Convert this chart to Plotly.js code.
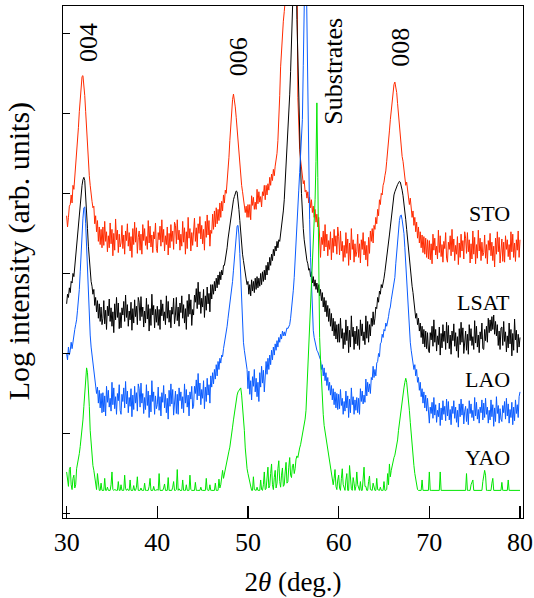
<!DOCTYPE html>
<html>
<head>
<meta charset="utf-8">
<script src="https://cdn.plot.ly/plotly-3.0.1.min.js"></script>
<style>html,body{margin:0;padding:0;background:#fff;}#chart{width:534px;height:598px;}</style>
</head>
<body>
<div id="chart"></div>
<script>
// 2theta grid: start and step (deg.)
const twoThetaStart = 30.0;
const twoThetaStep = 0.1;

// Log intensity (decades, arb. offset), one value per 0.1 deg from 30 to 80
const logSTO = [
3.72,3.58,3.70,3.84,3.86,3.98,3.88,4.10,4.05,4.20,4.30,4.44,4.62,4.82,5.02,5.20,5.36,5.46,5.47,5.38,
5.22,5.02,4.78,4.55,4.34,4.22,4.10,3.96,3.90,3.82,3.84,3.62,3.72,3.52,3.66,3.40,3.58,3.36,3.55,3.32,
3.58,3.35,3.65,3.40,3.52,3.27,3.47,3.32,3.63,3.37,3.55,3.22,3.50,3.29,3.68,3.42,3.54,3.26,3.49,3.33,
3.38,3.60,3.31,3.48,3.24,3.53,3.41,3.62,3.34,3.51,3.28,3.46,3.20,3.56,3.36,3.64,3.39,3.57,3.25,3.45,
3.53,3.29,3.49,3.24,3.61,3.41,3.56,3.35,3.46,3.30,3.66,3.38,3.59,3.33,3.48,3.26,3.52,3.43,3.63,3.31,
3.26,3.51,3.42,3.59,3.34,3.67,3.39,3.55,3.28,3.47,3.36,3.58,3.23,3.50,3.32,3.61,3.40,3.53,3.30,3.64,
3.60,3.37,3.67,3.42,3.54,3.29,3.49,3.34,3.65,3.39,3.57,3.24,3.52,3.31,3.70,3.44,3.56,3.28,3.51,3.35,
3.47,3.69,3.40,3.57,3.33,3.62,3.50,3.71,3.43,3.60,3.37,3.55,3.29,3.65,3.45,3.73,3.48,3.66,3.34,3.54,
3.50,3.74,3.55,3.78,3.58,3.82,3.62,3.80,3.66,3.88,3.70,3.90,3.78,3.98,3.88,4.04,4.00,4.14,4.25,4.45,
4.66,4.86,5.03,5.17,5.24,5.18,5.08,4.95,4.80,4.62,4.46,4.36,4.25,4.10,4.02,3.94,3.90,3.76,3.84,3.70,
3.86,3.70,3.86,3.67,3.97,3.85,3.95,3.80,3.89,3.80,4.05,3.87,4.02,3.89,3.96,3.83,4.02,3.97,4.10,3.92,
4.10,3.98,4.12,4.04,4.20,4.10,4.24,4.16,4.30,4.22,4.34,4.40,4.50,4.66,4.90,5.22,5.58,5.80,5.98,6.15,
6.27,6.40,7,7,7,7,7,7,7,7,7,7,7,7,7,5.20,4.70,4.55,4.42,4.30,
4.22,4.12,4.16,4.02,4.04,3.94,4.02,3.88,3.95,3.82,3.92,3.76,3.84,3.70,3.80,3.64,3.74,3.58,3.70,3.52,
3.20,3.45,3.36,3.53,3.28,3.61,3.33,3.49,3.22,3.41,3.30,3.52,3.17,3.44,3.26,3.55,3.34,3.47,3.24,3.58,
3.46,3.23,3.53,3.28,3.40,3.15,3.35,3.20,3.51,3.25,3.43,3.10,3.38,3.17,3.56,3.30,3.42,3.14,3.37,3.21,
3.27,3.49,3.20,3.37,3.13,3.42,3.30,3.51,3.23,3.40,3.17,3.35,3.09,3.45,3.25,3.53,3.40,3.56,3.38,3.60,
3.55,3.70,3.62,3.80,3.72,3.92,3.86,4.00,3.98,4.10,4.14,4.22,4.28,4.40,4.50,4.62,4.78,4.92,5.04,5.18,
5.28,5.36,5.39,5.34,5.26,5.12,4.98,4.86,4.74,4.58,4.46,4.40,4.30,4.20,4.10,4.14,4.02,3.96,3.86,3.94,
3.82,3.70,3.78,3.60,3.70,3.52,3.64,3.44,3.58,3.38,3.52,3.32,3.48,3.26,3.46,3.24,3.44,3.20,3.42,3.18,
3.41,3.17,3.37,3.12,3.49,3.29,3.44,3.23,3.34,3.18,3.54,3.26,3.47,3.21,3.36,3.14,3.40,3.31,3.51,3.19,
3.14,3.39,3.30,3.47,3.22,3.55,3.27,3.43,3.16,3.35,3.24,3.46,3.11,3.38,3.20,3.49,3.28,3.41,3.18,3.52,
3.44,3.25,3.51,3.27,3.42,3.13,3.37,3.18,3.53,3.24,3.45,3.12,3.36,3.19,3.54,3.28,3.44,3.16,3.39,3.22,
3.26,3.48,3.19,3.36,3.12,3.41,3.29,3.50,3.22,3.39,3.16,3.34,3.08,3.44,3.24,3.52,3.27,3.45,3.13,3.33,
3.43,3.15,3.39,3.14,3.47,3.30,3.42,3.21,3.36,3.17,3.52,3.27,3.49,3.20,3.38,3.15,3.42,3.29,3.53,3.20,
3.42];

const logLSAT = [
2.62,2.74,2.70,2.82,2.76,2.90,2.88,3.00,2.96,3.10,3.18,3.28,3.42,3.58,3.74,3.86,3.98,4.10,4.17,4.20,
4.16,4.00,3.80,3.56,3.34,3.18,3.05,2.90,2.84,2.74,2.80,2.60,2.70,2.52,2.66,2.44,2.62,2.40,2.58,2.36,
2.44,2.66,2.37,2.54,2.30,2.59,2.47,2.68,2.40,2.57,2.34,2.52,2.26,2.62,2.42,2.70,2.45,2.63,2.31,2.51,
2.32,2.57,2.48,2.65,2.40,2.73,2.45,2.61,2.34,2.53,2.42,2.64,2.29,2.56,2.38,2.67,2.46,2.59,2.36,2.70,
2.64,2.41,2.71,2.46,2.58,2.33,2.53,2.38,2.69,2.43,2.61,2.28,2.56,2.35,2.74,2.48,2.60,2.32,2.55,2.39,
2.59,2.35,2.55,2.30,2.67,2.47,2.62,2.41,2.52,2.36,2.72,2.44,2.65,2.39,2.54,2.32,2.58,2.49,2.69,2.37,
2.48,2.70,2.41,2.58,2.34,2.63,2.51,2.72,2.44,2.61,2.38,2.56,2.30,2.66,2.46,2.74,2.49,2.67,2.35,2.55,
2.48,2.73,2.64,2.81,2.56,2.89,2.61,2.77,2.50,2.69,2.58,2.80,2.45,2.72,2.54,2.83,2.62,2.75,2.52,2.86,
2.68,2.86,2.74,2.90,2.78,2.94,2.82,2.98,2.86,3.02,2.92,3.04,2.98,3.10,3.10,3.16,3.22,3.32,3.43,3.52,
3.60,3.70,3.80,3.86,3.92,3.96,4.00,4.03,4.02,3.94,3.80,3.66,3.50,3.36,3.24,3.16,3.06,2.96,2.93,2.86,
2.90,2.74,2.86,2.72,2.92,2.78,2.90,2.76,2.94,2.80,2.96,2.82,2.94,2.84,3.00,2.86,3.02,2.90,3.04,2.92,
3.10,2.98,3.14,3.04,3.20,3.10,3.24,3.16,3.30,3.22,3.34,3.28,3.40,3.32,3.42,3.40,3.49,3.56,3.67,3.78,
3.92,4.12,4.35,4.55,4.76,4.98,5.23,5.52,5.85,6.30,7,7,7,7,6.17,5.62,5.17,4.72,4.33,4.00,
3.73,3.56,3.42,3.32,3.23,3.16,3.12,3.04,3.06,2.96,3.02,2.88,2.96,2.84,2.92,2.80,2.88,2.76,2.86,2.72,
2.80,2.66,2.76,2.58,2.70,2.52,2.66,2.46,2.60,2.40,2.56,2.34,2.50,2.28,2.44,2.22,2.40,2.18,2.36,2.14,
2.37,2.14,2.44,2.19,2.31,2.06,2.26,2.11,2.42,2.16,2.34,2.01,2.29,2.08,2.47,2.21,2.33,2.05,2.28,2.12,
2.34,2.10,2.30,2.05,2.42,2.22,2.37,2.16,2.27,2.11,2.47,2.19,2.40,2.14,2.36,2.22,2.44,2.34,2.52,2.36,
2.44,2.58,2.56,2.70,2.64,2.78,2.74,2.86,2.82,2.92,2.94,3.02,3.10,3.20,3.29,3.38,3.48,3.58,3.69,3.82,
3.92,3.98,4.02,4.06,4.09,4.11,4.13,4.15,4.14,4.10,4.04,3.97,3.89,3.78,3.67,3.55,3.42,3.30,3.17,3.05,
2.94,2.84,2.76,2.62,2.56,2.44,2.50,2.36,2.44,2.28,2.38,2.20,2.34,2.12,2.30,2.08,2.28,2.06,2.26,2.04,
2.01,2.26,2.17,2.34,2.09,2.42,2.14,2.30,2.03,2.22,2.11,2.33,1.98,2.25,2.07,2.36,2.15,2.28,2.05,2.39,
2.13,2.35,2.06,2.23,1.99,2.28,2.16,2.37,2.09,2.26,2.03,2.21,1.95,2.31,2.11,2.39,2.14,2.32,2.00,2.20,
2.28,2.04,2.24,1.99,2.36,2.16,2.31,2.10,2.21,2.05,2.41,2.13,2.34,2.08,2.23,2.01,2.27,2.18,2.38,2.06,
2.05,2.30,2.16,2.34,2.14,2.44,2.26,2.42,2.28,2.46,2.30,2.48,2.24,2.40,2.22,2.36,2.10,2.28,2.05,2.32,
2.33,2.10,2.40,2.15,2.27,2.02,2.22,2.07,2.38,2.12,2.30,1.97,2.25,2.04,2.43,2.17,2.29,2.01,2.24,2.08,
2.20];

const logLAO = [
2.00,1.92,2.08,1.98,2.04,2.14,2.06,2.16,2.18,2.30,2.36,2.42,2.54,2.64,2.80,3.02,3.29,3.52,3.69,3.82,
3.83,3.62,3.29,3.00,2.73,2.46,2.23,2.08,1.98,1.86,1.78,1.66,1.64,1.50,1.58,1.38,1.54,1.32,1.50,1.26,
1.51,1.27,1.47,1.22,1.59,1.39,1.54,1.33,1.44,1.28,1.64,1.36,1.57,1.31,1.46,1.24,1.50,1.41,1.61,1.29,
1.24,1.49,1.40,1.57,1.32,1.65,1.37,1.53,1.26,1.45,1.34,1.56,1.21,1.48,1.30,1.59,1.38,1.51,1.28,1.62,
1.56,1.33,1.63,1.38,1.50,1.25,1.45,1.30,1.61,1.35,1.53,1.20,1.48,1.27,1.66,1.40,1.52,1.24,1.47,1.31,
1.36,1.58,1.29,1.46,1.22,1.51,1.39,1.60,1.32,1.49,1.26,1.44,1.18,1.54,1.34,1.62,1.37,1.55,1.23,1.43,
1.53,1.25,1.49,1.24,1.57,1.41,1.52,1.31,1.46,1.26,1.62,1.38,1.55,1.33,1.48,1.22,1.52,1.43,1.59,1.31,
1.34,1.59,1.50,1.67,1.42,1.75,1.47,1.63,1.36,1.55,1.44,1.66,1.31,1.58,1.40,1.69,1.48,1.61,1.38,1.72,
1.58,1.76,1.62,1.80,1.68,1.86,1.72,1.90,1.80,1.94,1.88,1.98,1.96,2.06,2.12,2.18,2.26,2.34,2.44,2.52,
2.60,2.70,2.79,2.90,3.04,3.20,3.38,3.52,3.59,3.60,3.48,3.25,2.98,2.62,2.29,2.14,2.04,1.94,1.86,1.80,
1.56,1.78,1.49,1.66,1.42,1.71,1.59,1.80,1.52,1.69,1.46,1.64,1.40,1.76,1.58,1.84,1.63,1.79,1.52,1.72,
1.90,1.74,1.94,1.80,1.98,1.86,2.04,1.92,2.08,1.98,2.12,2.04,2.16,2.08,2.20,2.14,2.24,2.18,2.28,2.22,
2.27,2.22,2.26,2.32,2.31,2.34,2.36,2.44,2.54,2.66,2.79,2.95,3.14,3.36,3.60,3.82,4.04,4.26,4.48,4.70,
4.92,5.60,7,7,7,6.20,4.92,4.20,3.67,3.20,2.79,2.50,2.29,2.20,2.14,2.08,2.04,2.02,1.98,1.95,
1.92,1.80,1.86,1.72,1.82,1.66,1.76,1.60,1.70,1.54,1.64,1.48,1.60,1.42,1.56,1.36,1.52,1.32,1.50,1.30,
1.49,1.31,1.55,1.35,1.44,1.24,1.40,1.28,1.53,1.32,1.47,1.20,1.43,1.26,1.57,1.36,1.46,1.24,1.42,1.29,
1.45,1.26,1.44,1.24,1.56,1.40,1.53,1.37,1.48,1.39,1.68,1.47,1.64,1.52,1.62,1.50,1.70,1.67,1.84,1.70,
1.80,1.72,1.88,1.90,2.00,1.96,2.12,2.14,2.24,2.20,2.30,2.28,2.38,2.34,2.44,2.46,2.54,2.58,2.67,2.74,
2.80,2.86,2.95,3.12,3.29,3.44,3.57,3.66,3.72,3.73,3.67,3.60,3.50,3.32,3.10,2.88,2.67,2.46,2.29,2.14,
2.04,1.96,1.94,1.80,1.86,1.72,1.80,1.64,1.70,1.54,1.64,1.46,1.56,1.38,1.52,1.32,1.48,1.28,1.44,1.24,
1.13,1.33,1.25,1.39,1.19,1.45,1.23,1.36,1.14,1.29,1.21,1.38,1.10,1.32,1.17,1.41,1.24,1.34,1.16,1.43,
1.22,1.40,1.17,1.30,1.11,1.34,1.25,1.41,1.19,1.33,1.14,1.29,1.08,1.37,1.21,1.43,1.23,1.37,1.12,1.28,
1.34,1.15,1.31,1.11,1.41,1.25,1.37,1.20,1.29,1.16,1.45,1.22,1.39,1.18,1.30,1.13,1.33,1.26,1.42,1.17,
1.38,1.20,1.44,1.24,1.33,1.13,1.29,1.17,1.42,1.21,1.36,1.09,1.32,1.15,1.46,1.25,1.35,1.13,1.31,1.18,
1.15,1.35,1.26,1.40,1.18,1.44,1.22,1.37,1.13,1.30,1.20,1.39,1.11,1.33,1.16,1.42,1.25,1.36,1.20,1.46,
1.52];

const logYAO = [
0.52,0.40,0.34,0.55,0.58,0.36,0.30,0.44,0.48,0.32,0.36,0.56,0.62,0.66,0.75,0.84,0.94,1.04,1.17,1.34,
1.54,1.72,1.82,1.76,1.61,1.34,1.04,0.84,0.69,0.60,0.54,0.44,0.42,0.30,0.50,0.36,0.29,0.29,0.38,0.29,
0.29,0.29,0.44,0.29,0.29,0.33,0.29,0.29,0.29,0.36,0.52,0.30,0.29,0.30,0.29,0.29,0.29,0.40,0.29,0.29,
0.36,0.29,0.29,0.29,0.48,0.31,0.29,0.31,0.29,0.29,0.42,0.29,0.29,0.29,0.35,0.29,0.29,0.33,0.46,0.29,
0.29,0.29,0.32,0.29,0.29,0.29,0.38,0.29,0.29,0.29,0.29,0.34,0.44,0.29,0.29,0.29,0.34,0.29,0.29,0.30,
0.30,0.29,0.50,0.29,0.29,0.29,0.29,0.32,0.37,0.29,0.29,0.29,0.45,0.29,0.29,0.29,0.29,0.33,0.40,0.29,
0.29,0.30,0.55,0.29,0.31,0.29,0.29,0.29,0.42,0.29,0.29,0.29,0.36,0.29,0.29,0.29,0.48,0.30,0.29,0.29,
0.29,0.29,0.39,0.29,0.29,0.29,0.29,0.29,0.33,0.29,0.29,0.29,0.29,0.29,0.44,0.30,0.29,0.29,0.36,0.29,
0.29,0.29,0.29,0.29,0.38,0.29,0.29,0.29,0.43,0.32,0.36,0.46,0.54,0.44,0.50,0.58,0.62,0.68,0.73,0.78,
0.83,0.90,0.98,1.08,1.17,1.26,1.35,1.42,1.48,1.52,1.54,1.56,1.57,1.48,1.35,1.20,1.04,0.82,0.63,0.56,
0.50,0.44,0.40,0.32,0.29,0.29,0.46,0.30,0.29,0.29,0.33,0.29,0.29,0.29,0.42,0.30,0.29,0.36,0.52,0.30,
0.31,0.44,0.58,0.32,0.35,0.50,0.62,0.36,0.30,0.45,0.54,0.32,0.38,0.56,0.66,0.40,0.33,0.48,0.57,0.34,
0.36,0.52,0.64,0.38,0.40,0.58,0.70,0.48,0.45,0.60,0.62,0.50,0.56,0.68,0.72,0.70,0.79,0.82,0.86,0.92,
0.98,1.04,1.10,1.18,1.29,1.55,1.92,2.10,2.29,2.52,2.79,3.04,3.29,3.58,3.92,4.40,5.13,4.20,2.67,2.20,
1.92,1.62,1.42,1.24,1.10,1.02,0.95,0.86,0.79,0.70,0.63,0.56,0.48,0.40,0.36,0.44,0.55,0.34,0.30,0.42,
0.48,0.32,0.29,0.44,0.56,0.36,0.33,0.29,0.42,0.50,0.29,0.29,0.60,0.40,0.31,0.29,0.45,0.38,0.29,0.34,
0.52,0.36,0.30,0.29,0.40,0.29,0.29,0.46,0.58,0.34,0.34,0.29,0.29,0.40,0.47,0.30,0.29,0.29,0.38,0.33,
0.29,0.29,0.44,0.30,0.29,0.29,0.33,0.29,0.29,0.29,0.40,0.29,0.29,0.30,0.50,0.36,0.62,0.46,0.54,0.60,
0.67,0.70,0.73,0.78,0.83,0.92,1.04,1.14,1.23,1.32,1.42,1.50,1.57,1.64,1.69,1.64,1.54,1.42,1.29,1.14,
0.98,0.86,0.73,0.60,0.50,0.42,0.35,0.30,0.29,0.29,0.29,0.29,0.42,0.29,0.29,0.29,0.29,0.29,0.29,0.29,
0.52,0.29,0.29,0.29,0.29,0.29,0.29,0.29,0.29,0.29,0.29,0.29,0.52,0.29,0.29,0.29,0.29,0.29,0.29,0.29,
0.29,0.29,0.29,0.29,0.29,0.29,0.29,0.29,0.29,0.29,0.29,0.29,0.29,0.29,0.29,0.29,0.29,0.29,0.29,0.29,
0.29,0.50,0.29,0.29,0.29,0.29,0.36,0.40,0.42,0.29,0.29,0.29,0.29,0.29,0.29,0.29,0.29,0.29,0.29,0.40,
0.50,0.54,0.48,0.29,0.29,0.29,0.29,0.29,0.29,0.38,0.44,0.29,0.29,0.29,0.29,0.29,0.29,0.29,0.29,0.29,
0.39,0.29,0.29,0.29,0.29,0.29,0.29,0.42,0.29,0.29,0.29,0.29,0.29,0.29,0.29,0.29,0.29,0.29,0.29,0.29,
0.29];

const sampleNames = ["STO", "LSAT", "LAO", "YAO"];
const sampleData = [logSTO, logLSAT, logLAO, logYAO];
const sampleColors = ["#ff2a00", "#000000", "#0a5cff", "#00e600"];

const peakLabels = ["004", "006", "008"];
const peakLabelX = [32.35, 48.9, 66.86];
const peakLabelY = [5.89, 5.70, 5.83];
const substrateLabel = "Substrates";
const substrateLabelX = 59.47, substrateLabelY = 5.53;
const sampleLabelY = [3.75, 2.64, 1.67, 0.70];
const yTitle = "Log intensity (arb. units)";
const xTitle = "2<i>θ</i> (deg.)";

const FONT = "Liberation Serif";

const traces = sampleData.map((d, k) => ({
  type: "scatter", mode: "lines",
  x0: twoThetaStart, dx: twoThetaStep, y: d,
  line: {color: sampleColors[k], width: 1},
  name: sampleNames[k], hoverinfo: "skip"
}));

const annotations = [];
peakLabels.forEach((t, i) => annotations.push({
  x: peakLabelX[i], y: peakLabelY[i], xref: "x", yref: "y", text: t, showarrow: false,
  textangle: -90, font: {family: FONT, size: 26, color: "#000"}
}));
annotations.push({x: substrateLabelX, y: substrateLabelY, xref: "x", yref: "y", text: substrateLabel,
  showarrow: false, textangle: -90, font: {family: FONT, size: 26, color: "#000"}});
sampleNames.forEach((t, i) => annotations.push({
  x: 79.1, y: sampleLabelY[i], xref: "x", yref: "y", text: t, showarrow: false, xanchor: "right",
  font: {family: FONT, size: 22, color: "#000"}
}));
annotations.push({
  x: -0.0957, y: 0.521, xref: "paper", yref: "paper", text: yTitle, showarrow: false,
  textangle: -90, xanchor: "center", yanchor: "middle",
  font: {family: FONT, size: 30, color: "#000"}
});

const layout = {
  width: 534, height: 598,
  margin: {l: 63, r: 11, t: 6, b: 80},
  paper_bgcolor: "#fff", plot_bgcolor: "#fff",
  showlegend: false,
  font: {family: FONT, size: 26, color: "#000"},
  xaxis: {
    range: [29.6, 80.33], tickmode: "linear", tick0: 30, dtick: 10,
    ticks: "inside", ticklen: 12, tickwidth: 1.3, tickcolor: "#000",
    showline: true, linecolor: "#000", linewidth: 1.3, mirror: true,
    showgrid: false, zeroline: false,
    tickfont: {family: FONT, size: 26, color: "#000"},
    title: {text: xTitle, font: {family: FONT, size: 27, color: "#000"}, standoff: 16}
  },
  yaxis: {
    range: [-0.055, 6.34], tickmode: "linear", tick0: 0, dtick: 1,
    ticks: "inside", ticklen: 7, tickwidth: 1.3, tickcolor: "#000",
    showticklabels: false,
    showline: true, linecolor: "#000", linewidth: 1.3, mirror: true,
    showgrid: false, zeroline: false
  },
  annotations: annotations
};

Plotly.newPlot("chart", traces, layout, {staticPlot: true, displayModeBar: false});
</script>
</body>
</html>
